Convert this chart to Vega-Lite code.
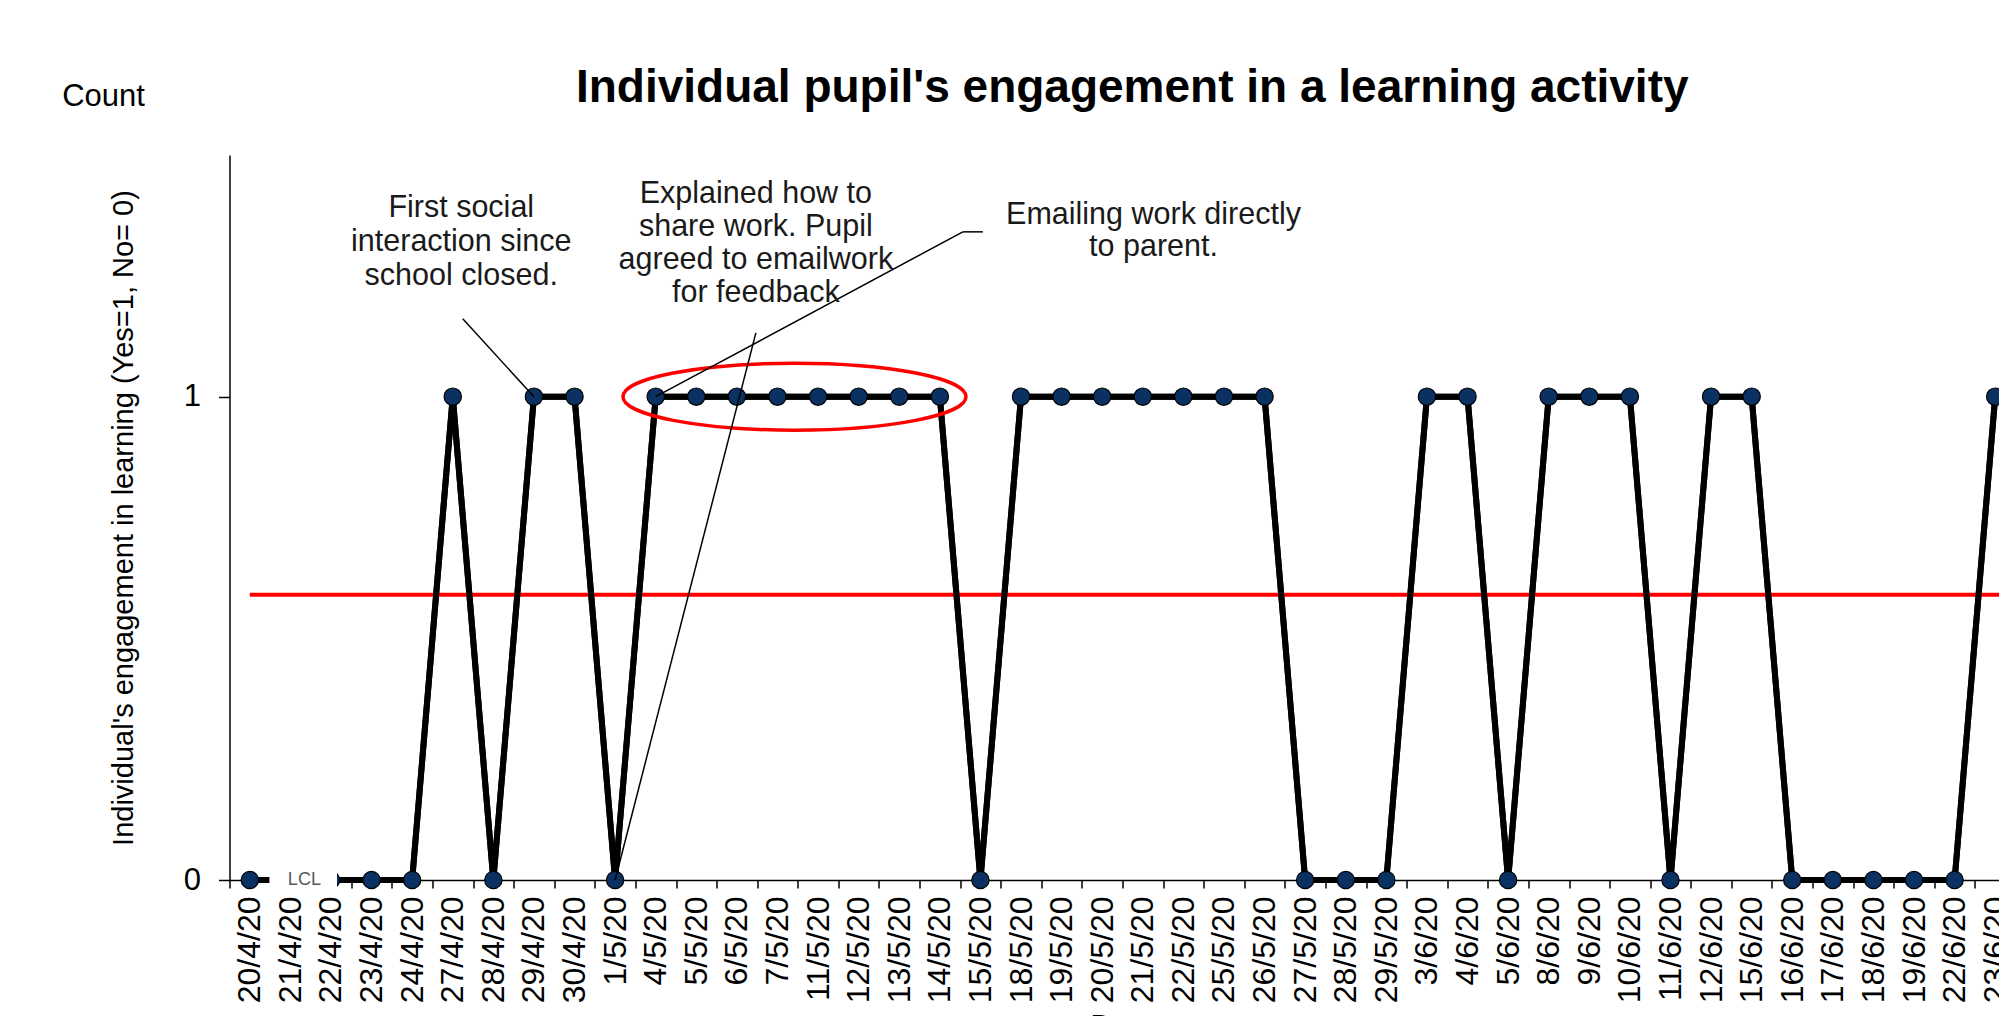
{
  "$schema": "https://vega.github.io/schema/vega-lite/v6.json",
  "autosize": {"type": "none"},
  "width": 1769.5,
  "height": 725,
  "padding": {"left": 229.5, "top": 155, "right": 0, "bottom": 136},
  "background": "white",
  "config": {
    "view": {"stroke": null},
    "font": "Liberation Sans",
    "axis": {"labelFont": "Liberation Sans", "titleFont": "Liberation Sans"},
    "text": {"font": "Liberation Sans"}
  },
  "title": {
    "text": "Individual pupil's engagement in a learning activity",
    "font": "Liberation Sans",
    "fontSize": 46,
    "fontWeight": "bold",
    "color": "black",
    "anchor": "middle",
    "frame": "group",
    "baseline": "alphabetic",
    "offset": -67,
    "dx": 18
  },
  "datasets": {
    "engagement": [
      {"date": "20/4/20", "value": 0},
      {"date": "21/4/20", "value": 0},
      {"date": "22/4/20", "value": 0},
      {"date": "23/4/20", "value": 0},
      {"date": "24/4/20", "value": 0},
      {"date": "27/4/20", "value": 1},
      {"date": "28/4/20", "value": 0},
      {"date": "29/4/20", "value": 1},
      {"date": "30/4/20", "value": 1},
      {"date": "1/5/20", "value": 0},
      {"date": "4/5/20", "value": 1},
      {"date": "5/5/20", "value": 1},
      {"date": "6/5/20", "value": 1},
      {"date": "7/5/20", "value": 1},
      {"date": "11/5/20", "value": 1},
      {"date": "12/5/20", "value": 1},
      {"date": "13/5/20", "value": 1},
      {"date": "14/5/20", "value": 1},
      {"date": "15/5/20", "value": 0},
      {"date": "18/5/20", "value": 1},
      {"date": "19/5/20", "value": 1},
      {"date": "20/5/20", "value": 1},
      {"date": "21/5/20", "value": 1},
      {"date": "22/5/20", "value": 1},
      {"date": "25/5/20", "value": 1},
      {"date": "26/5/20", "value": 1},
      {"date": "27/5/20", "value": 0},
      {"date": "28/5/20", "value": 0},
      {"date": "29/5/20", "value": 0},
      {"date": "3/6/20", "value": 1},
      {"date": "4/6/20", "value": 1},
      {"date": "5/6/20", "value": 0},
      {"date": "8/6/20", "value": 1},
      {"date": "9/6/20", "value": 1},
      {"date": "10/6/20", "value": 1},
      {"date": "11/6/20", "value": 0},
      {"date": "12/6/20", "value": 1},
      {"date": "15/6/20", "value": 1},
      {"date": "16/6/20", "value": 0},
      {"date": "17/6/20", "value": 0},
      {"date": "18/6/20", "value": 0},
      {"date": "19/6/20", "value": 0},
      {"date": "22/6/20", "value": 0},
      {"date": "23/6/20", "value": 1}
    ],
    "mean": [{"from": "20/4/20", "to": "23/6/20", "mean": 0.59}],
    "lcl": [{"from": "21/4/20", "to": "22/4/20", "y": 0, "label": "LCL"}],
    "highlight": [{"date": "7/5/20", "value": 1}],
    "calloutA": [{"x1": "27/4/20", "y1": 1.161, "x2": "29/4/20", "y2": 1}],
    "calloutB": [{"x1": "6/5/20", "y1": 1.132, "x2": "1/5/20", "y2": 0}],
    "calloutC": [{"x1": "14/5/20", "y1": 1.341, "x2": "4/5/20", "y2": 1}],
    "calloutC2": [{"x1": "14/5/20", "y1": 1.341, "x2": "14/5/20"}],
    "noteA": [{"date": "27/4/20", "y": 1.391, "label": "First social\ninteraction since\nschool closed."}],
    "noteB": [{"date": "6/5/20", "y": 1.42, "label": "Explained how to\nshare work. Pupil\nagreed to emailwork\nfor feedback"}],
    "noteC": [{"date": "21/5/20", "y": 1.375, "label": "Emailing work directly\nto parent."}],
    "count": [{"date": "20/4/20", "y": 1.619, "label": "Count"}]
  },
  "layer": [
    {
      "data": {"name": "engagement"},
      "mark": {"type": "line", "color": "black", "strokeWidth": 6},
      "encoding": {
        "x": {
          "field": "date",
          "type": "nominal",
          "sort": null,
          "scale": {
            "type": "band",
            "domain": ["20/4/20","21/4/20","22/4/20","23/4/20","24/4/20","27/4/20","28/4/20","29/4/20","30/4/20","1/5/20","4/5/20","5/5/20","6/5/20","7/5/20","11/5/20","12/5/20","13/5/20","14/5/20","15/5/20","18/5/20","19/5/20","20/5/20","21/5/20","22/5/20","25/5/20","26/5/20","27/5/20","28/5/20","29/5/20","3/6/20","4/6/20","5/6/20","8/6/20","9/6/20","10/6/20","11/6/20","12/6/20","15/6/20","16/6/20","17/6/20","18/6/20","19/6/20","22/6/20","23/6/20"],
            "range": [0, 1786],
            "paddingInner": 0,
            "paddingOuter": 0
          },
          "axis": {
            "title": "Date",
            "titleFontSize": 31,
            "titleFontWeight": "normal",
            "titleColor": "black",
            "titlePadding": 10,
            "labelAngle": -90,
            "labelFontSize": 32,
            "labelColor": "black",
            "labelPadding": 8,
            "labelOverlap": false,
            "tickBand": "extent",
            "tickSize": 8,
            "tickColor": "black",
            "tickWidth": 1.5,
            "domainColor": "black",
            "domainWidth": 1.5,
            "grid": false
          }
        },
        "y": {
          "field": "value",
          "type": "quantitative",
          "scale": {"domain": [0, 1.5], "nice": false, "zero": true},
          "axis": {
            "title": "Individual's engagement in learning (Yes=1, No= 0)",
            "titleFontSize": 29,
            "titleFontWeight": "normal",
            "titleColor": "black",
            "titlePadding": 45,
            "values": [0, 1],
            "format": "d",
            "grid": false,
            "tickSize": 11,
            "tickColor": "black",
            "tickWidth": 1.5,
            "domainColor": "black",
            "domainWidth": 1.5,
            "labelFontSize": 31,
            "labelColor": "black",
            "labelPadding": 18
          }
        }
      }
    },
    {
      "data": {"name": "mean"},
      "mark": {"type": "rule", "color": "#ff0000", "strokeWidth": 4, "x2Offset": 25},
      "encoding": {
        "x": {"field": "from", "type": "nominal"},
        "x2": {"field": "to"},
        "y": {"field": "mean", "type": "quantitative"}
      }
    },
    {
      "data": {"name": "engagement"},
      "mark": {"type": "line", "color": "black", "strokeWidth": 6},
      "encoding": {
        "x": {"field": "date", "type": "nominal"},
        "y": {"field": "value", "type": "quantitative"}
      }
    },
    {
      "data": {"name": "engagement"},
      "mark": {"type": "point", "shape": "circle", "filled": true, "size": 300, "fill": "#0a3161", "stroke": "black", "strokeWidth": 1.2, "opacity": 1},
      "encoding": {
        "x": {"field": "date", "type": "nominal"},
        "y": {"field": "value", "type": "quantitative"}
      }
    },
    {
      "data": {"name": "highlight"},
      "mark": {"type": "point", "shape": "M-1,0A1,0.1953,0,1,0,1,0A1,0.1953,0,1,0,-1,0Z", "size": 117649, "filled": false, "stroke": "#ff0000", "strokeWidth": 3.5, "opacity": 1, "xOffset": 17},
      "encoding": {
        "x": {"field": "date", "type": "nominal"},
        "y": {"field": "value", "type": "quantitative"}
      }
    },
    {
      "data": {"name": "calloutA"},
      "mark": {"type": "rule", "color": "black", "strokeWidth": 1.5, "xOffset": 10},
      "encoding": {
        "x": {"field": "x1", "type": "nominal"},
        "x2": {"field": "x2"},
        "y": {"field": "y1", "type": "quantitative"},
        "y2": {"field": "y2"}
      }
    },
    {
      "data": {"name": "calloutB"},
      "mark": {"type": "rule", "color": "black", "strokeWidth": 1.5, "xOffset": 19},
      "encoding": {
        "x": {"field": "x1", "type": "nominal"},
        "x2": {"field": "x2"},
        "y": {"field": "y1", "type": "quantitative"},
        "y2": {"field": "y2"}
      }
    },
    {
      "data": {"name": "calloutC"},
      "mark": {"type": "rule", "color": "black", "strokeWidth": 1.5, "xOffset": 23},
      "encoding": {
        "x": {"field": "x1", "type": "nominal"},
        "x2": {"field": "x2"},
        "y": {"field": "y1", "type": "quantitative"},
        "y2": {"field": "y2"}
      }
    },
    {
      "data": {"name": "calloutC2"},
      "mark": {"type": "rule", "color": "black", "strokeWidth": 1.5, "xOffset": 23, "x2Offset": 43},
      "encoding": {
        "x": {"field": "x1", "type": "nominal"},
        "x2": {"field": "x2"},
        "y": {"field": "y1", "type": "quantitative"}
      }
    },
    {
      "data": {"name": "noteA"},
      "mark": {"type": "text", "fontSize": 30.5, "color": "#1a1a1a", "align": "center", "baseline": "middle", "lineBreak": "\n", "lineHeight": 34, "dx": 8.5},
      "encoding": {
        "x": {"field": "date", "type": "nominal"},
        "y": {"field": "y", "type": "quantitative"},
        "text": {"field": "label"}
      }
    },
    {
      "data": {"name": "noteB"},
      "mark": {"type": "text", "fontSize": 30.5, "color": "#1a1a1a", "align": "center", "baseline": "middle", "lineBreak": "\n", "lineHeight": 33, "dx": 19},
      "encoding": {
        "x": {"field": "date", "type": "nominal"},
        "y": {"field": "y", "type": "quantitative"},
        "text": {"field": "label"}
      }
    },
    {
      "data": {"name": "noteC"},
      "mark": {"type": "text", "fontSize": 30.5, "color": "#1a1a1a", "align": "center", "baseline": "middle", "lineBreak": "\n", "lineHeight": 32, "dx": 10.7},
      "encoding": {
        "x": {"field": "date", "type": "nominal"},
        "y": {"field": "y", "type": "quantitative"},
        "text": {"field": "label"}
      }
    },
    {
      "data": {"name": "lcl"},
      "mark": {"type": "rule", "color": "white", "strokeWidth": 24, "strokeCap": "butt", "xOffset": -21, "x2Offset": 6},
      "encoding": {
        "x": {"field": "from", "type": "nominal"},
        "x2": {"field": "to"},
        "y": {"field": "y", "type": "quantitative"}
      }
    },
    {
      "data": {"name": "lcl"},
      "mark": {"type": "text", "fontSize": 18, "color": "#595959", "align": "center", "baseline": "middle", "dx": 14},
      "encoding": {
        "x": {"field": "from", "type": "nominal"},
        "y": {"field": "y", "type": "quantitative"},
        "text": {"field": "label"}
      }
    },
    {
      "data": {"name": "count"},
      "mark": {"type": "text", "fontSize": 31, "color": "black", "align": "left", "baseline": "middle", "dx": -187.6},
      "encoding": {
        "x": {"field": "date", "type": "nominal"},
        "y": {"field": "y", "type": "quantitative"},
        "text": {"field": "label"}
      }
    }
  ]
}
